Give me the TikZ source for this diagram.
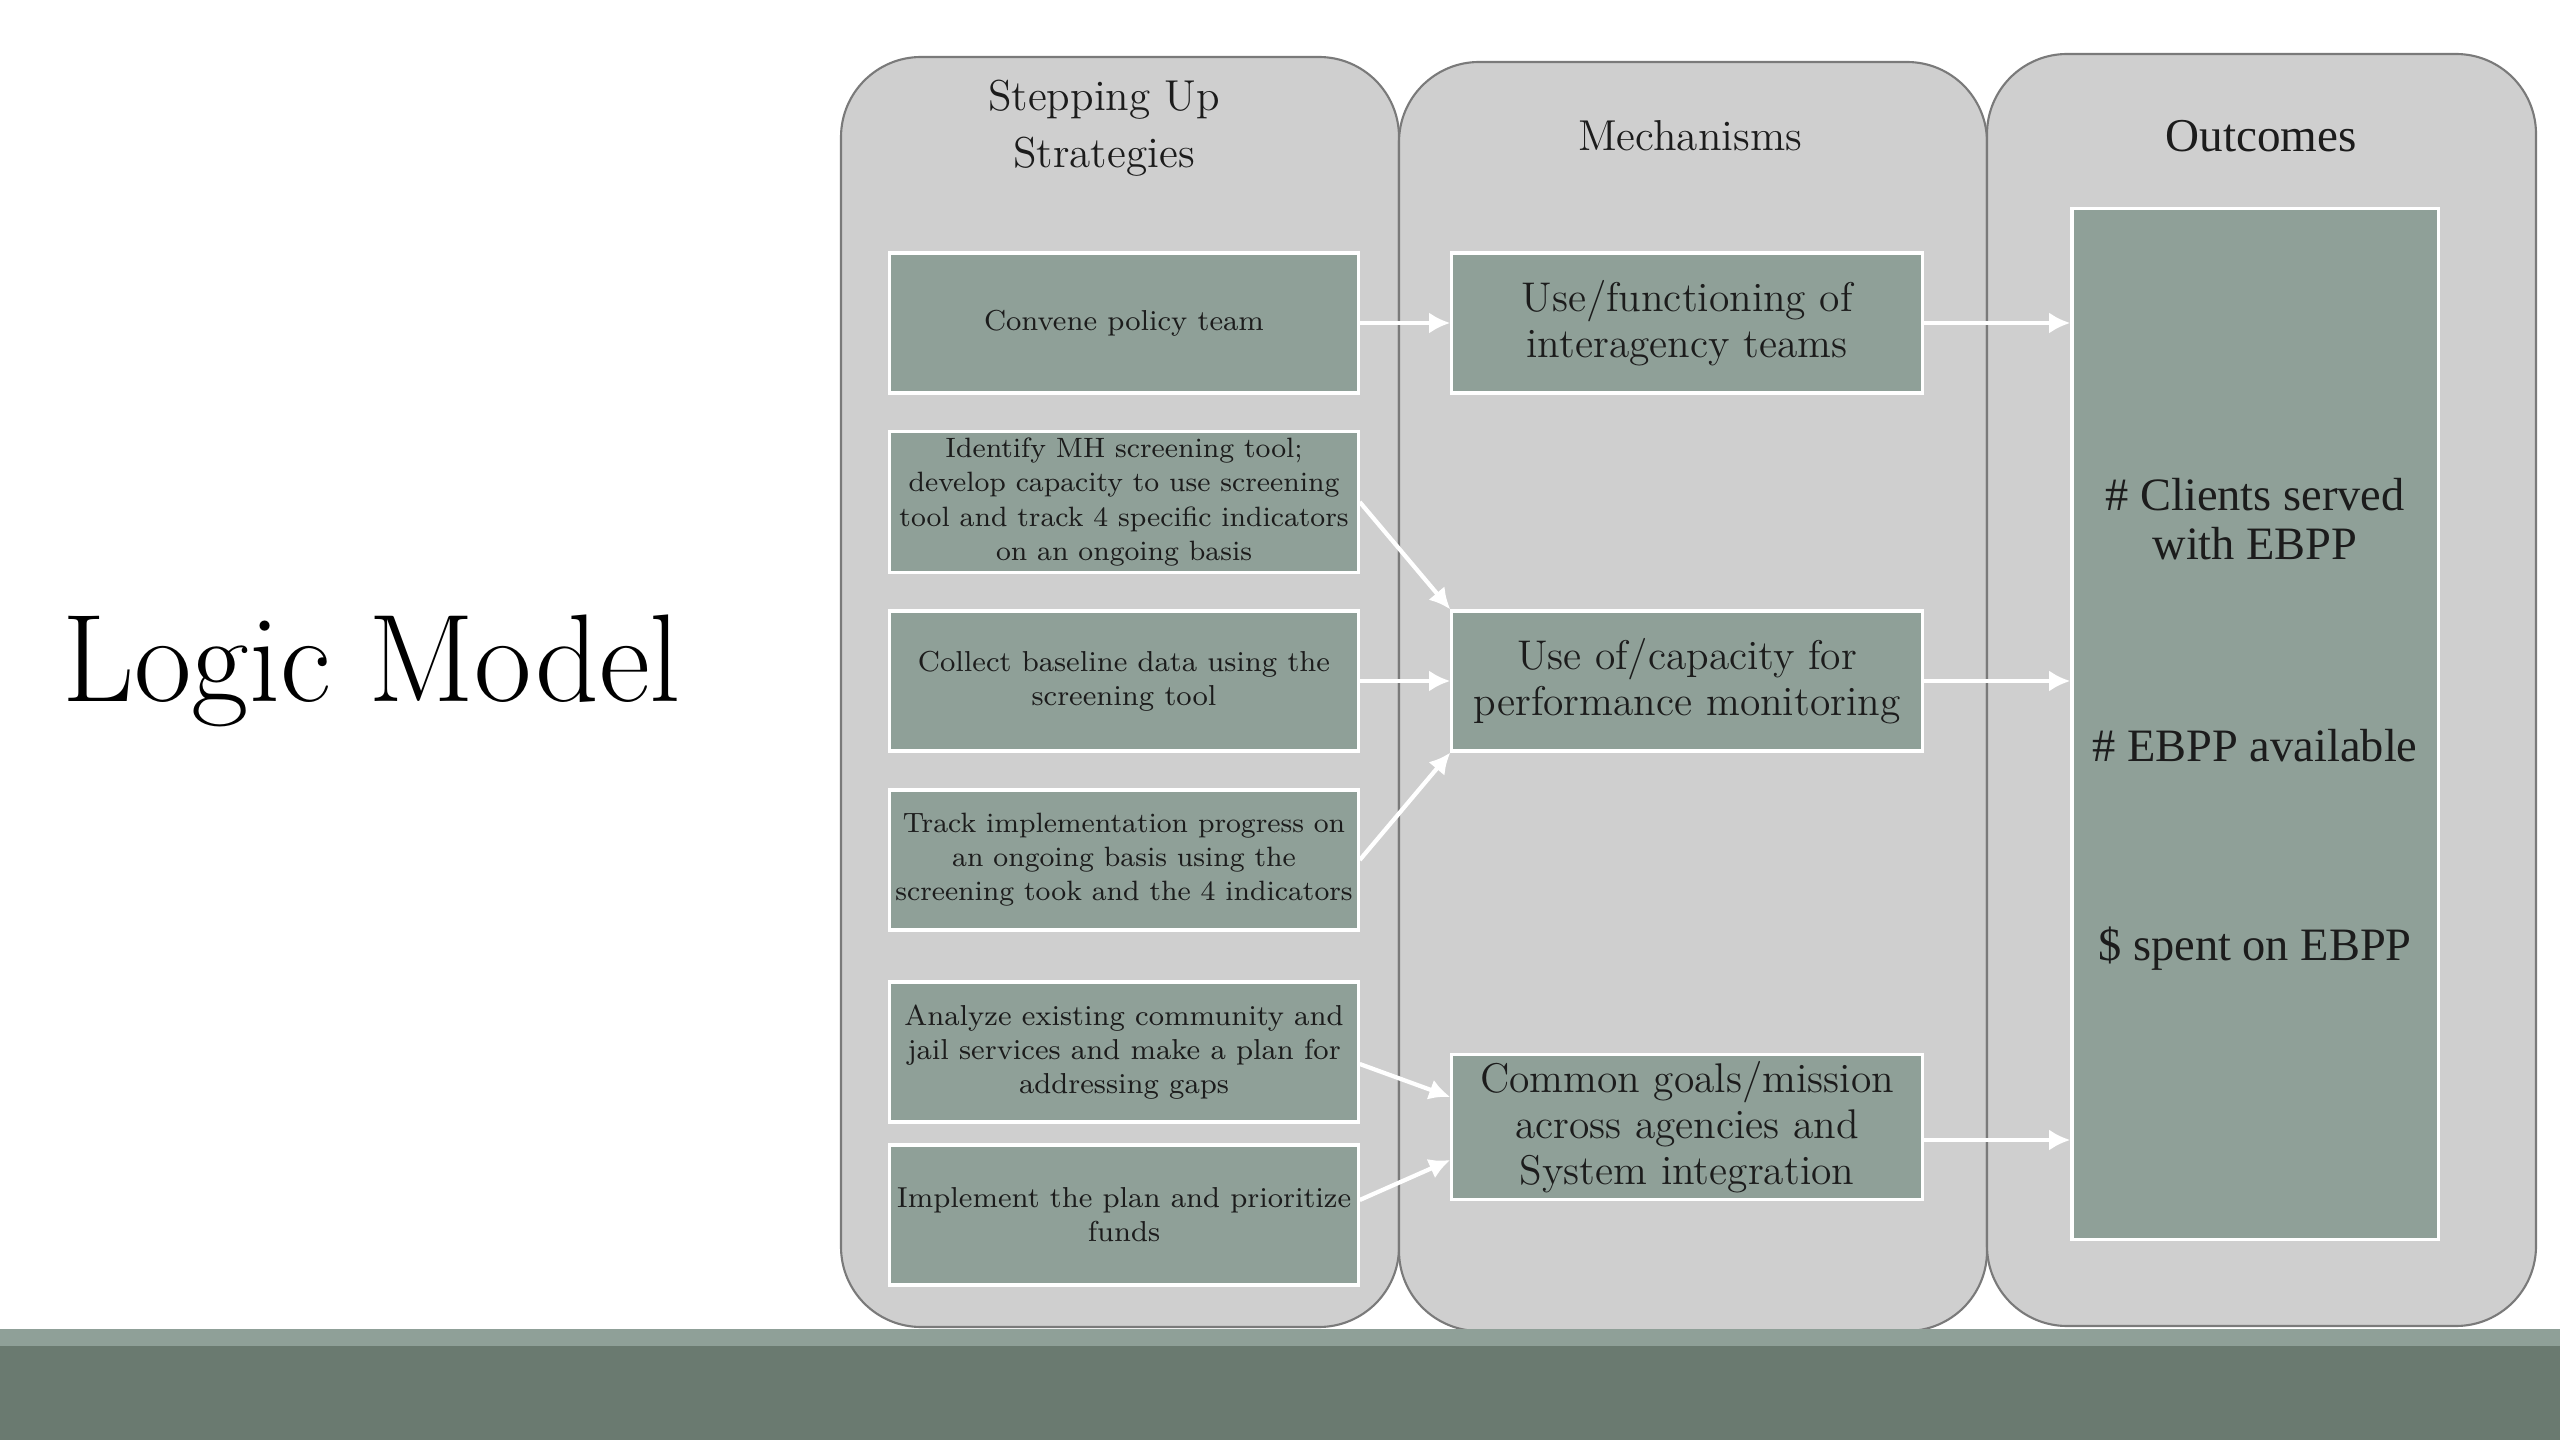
\documentclass[tikz,border=0pt]{standalone}
\usepackage{fontspec}
\newfontfamily\outfont{Liberation Serif}
\usepackage{tikz}
\usetikzlibrary{arrows.meta,calc,positioning}
\usepackage{xcolor}
\definecolor{LMLane}{HTML}{CFCFCF}
\definecolor{LMBorder}{HTML}{7A7A7A}
\definecolor{LMBox}{HTML}{8FA098}
\definecolor{LMStrip}{HTML}{8FA098}
\definecolor{LMBar}{HTML}{6A7A70}
\definecolor{LMText}{HTML}{1C1C1C}

\begin{document}
\begin{tikzpicture}[
  x=0.01cm,y=-0.01cm,>=Latex,
  flow/.style={-{Latex[length=6pt,width=6pt]},draw=white,line width=1.2pt},
  lane/.style={draw=LMBorder,fill=LMLane,rounded corners=0.8cm,line width=0.6pt},
  base/.style={rectangle,draw=white,fill=LMBox,line width=0.9pt,
    inner xsep=1pt,inner ysep=2pt,align=center,text=LMText},
  strat/.style={base,minimum width=4.68cm,minimum height=1.40cm,
    font=\fontsize{8.2}{9.7}\selectfont},
  tight/.style={font=\fontsize{7.95}{9.7}\selectfont},
  mech/.style={base,minimum width=4.70cm,minimum height=1.40cm,
    font=\fontsize{11.8}{13}\selectfont},
  header/.style={align=center,text=LMText,font=\fontsize{12.3}{16.2}\selectfont},
  item/.style={align=center,text=LMText,font=\outfont\fontsize{13.2}{14}\selectfont}
]
\useasboundingbox (0,0) rectangle (2560,1440);

% three lanes, left to right, then the footer band
\draw[lane] (841,57) rectangle (1399,1327);
\draw[lane] (1399,62) rectangle (1987,1331);
\draw[lane] (1987,54) rectangle (2536,1326);
\fill[LMStrip] (0,1329) rectangle (2560,1346);
\fill[LMBar] (0,1346) rectangle (2560,1440);

\node[anchor=base west,inner sep=0pt,text=black,font=\fontsize{35.5}{38}\selectfont]
  (title) at (62,702) {Logic Model};

\node[header] (hstrat) at (1104,128) {Stepping Up\\Strategies};
\node[header] (hmech) at (1690,136) {Mechanisms};
\node[header,font=\outfont\fontsize{13.4}{16}\selectfont] (hout) at (2261,136) {Outcomes};

% strategies
\node[strat] (convene) at (1124,323) {Convene policy team};
\node[strat,tight] (identify) at (1124,502)
  {Identify MH screening tool;\\develop capacity to use screening\\
   tool and track 4 specific indicators\\on an ongoing basis};
\node[strat] (collect) at (1124,681) {Collect baseline data using the\\screening tool};
\node[strat,tight] (track) at (1124,860)
  {Track implementation progress on\\an ongoing basis using the\\
   screening took and the 4 indicators};
\node[strat] (analyze) at (1124,1052)
  {Analyze existing community and\\jail services and make a plan for\\addressing gaps};
\node[strat] (implement) at (1124,1215) {Implement the plan and prioritize\\funds};

% mechanisms
\node[mech] (teams) at (1687,323) {Use/functioning of\\interagency teams};
\node[mech] (monitor) at (1687,681) {Use of/capacity for\\performance monitoring};
\node[mech] (goals) at (1687,1127)
  {Common goals/mission\\across agencies and\\System integration};

% outcomes
\node[base,minimum width=3.66cm,minimum height=10.30cm] (outc) at (2255,724) {};
\node[item] (clients) at (2255,519) {\# Clients served\\with EBPP};
\node[item] (avail) at (2255,746) {\# EBPP available};
\node[item] (spent) at (2255,949) {\$ spent on EBPP};

\draw[flow] (convene) -- (teams);
\draw[flow] (identify.east) -- (monitor.north west);
\draw[flow] (collect) -- (monitor);
\draw[flow] (track.east) -- (monitor.south west);
\draw[flow] ($(analyze.east)+(0,12)$) -- ($(goals.west)+(0,-30)$);
\draw[flow] ($(implement.east)+(0,-15)$) -- ($(goals.west)+(0,33)$);

\coordinate (goalsout) at ($(goals.east)+(0,13)$);
\draw[flow] (teams.east) -- (teams.east -| outc.west);
\draw[flow] (monitor.east) -- (monitor.east -| outc.west);
\draw[flow] (goalsout) -- (goalsout -| outc.west);

\end{tikzpicture}
\end{document}
